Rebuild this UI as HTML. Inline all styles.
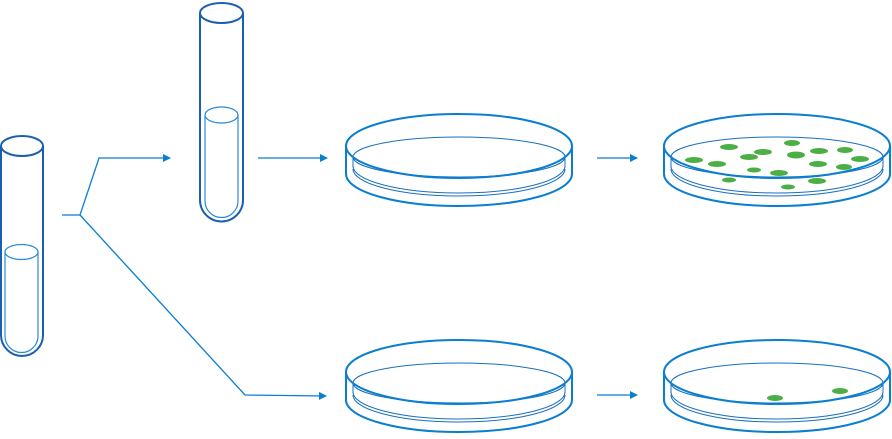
<!DOCTYPE html>
<html><head><style>html,body{margin:0;padding:0;background:#fff}svg{display:block}</style></head>
<body>
<svg width="892" height="439" viewBox="0 0 892 439" xmlns="http://www.w3.org/2000/svg">
<defs>
<g id="dish" fill="none">
  <path d="M353 383 L353 393 M565 383 L565 393" stroke="#1a6fc0" stroke-width="1"/>
  <path d="M353 392 A106 27 0 0 0 565 392" stroke="#1a6fc0" stroke-width="1"/>
  <path d="M353 395 A106 27 0 0 0 565 395" stroke="#1a6fc0" stroke-width="1"/>
  <ellipse cx="459" cy="383" rx="106" ry="20" stroke="#1a6fc0" stroke-width="1"/>
  <path d="M346 372 L346 400 A113 32 0 0 0 572 400 L572 372" stroke="#0a7ed0" stroke-width="2"/>
  <ellipse cx="459" cy="372" rx="113" ry="32" stroke="#0a7ed0" stroke-width="2"/>
</g>
<marker id="ah" markerWidth="8" markerHeight="8" refX="7" refY="4" orient="auto" markerUnits="userSpaceOnUse"><path d="M0 0 L8 4 L0 8 z" fill="#0a7ed0"/></marker>
</defs>
<!-- tube 1 -->
<g fill="none">
  <path d="M200 13 L200 200 A21.5 21.5 0 0 0 243 200 L243 13" stroke="#1a5fb0" stroke-width="2"/>
  <ellipse cx="221.5" cy="13" rx="21.5" ry="10" stroke="#1a5fb0" stroke-width="2"/>
  <path d="M205 115 L205 201 A16.5 16.5 0 0 0 238 201 L238 115" stroke="#2a8ad8" stroke-width="1.2"/>
  <ellipse cx="221.5" cy="115" rx="16.5" ry="8" stroke="#2a8ad8" stroke-width="1.2"/>
</g>
<!-- tube 2 -->
<g fill="none">
  <path d="M1 146 L1 335 A21 21 0 0 0 43 335 L43 146" stroke="#1a5fb0" stroke-width="2"/>
  <ellipse cx="22" cy="146" rx="21" ry="10" stroke="#1a5fb0" stroke-width="2"/>
  <path d="M5 252 L5 336 A16.5 16.5 0 0 0 38 336 L38 252" stroke="#2a8ad8" stroke-width="1.2"/>
  <ellipse cx="21.5" cy="252" rx="16.5" ry="7.5" stroke="#2a8ad8" stroke-width="1.2"/>
</g>
<!-- connectors -->
<g fill="none" stroke="#0a7ed0" stroke-width="1.3">
  <path d="M62 215 L80 215 L99 158 L170 158" marker-end="url(#ah)"/>
  <path d="M80 215 L245 395 L326 396" marker-end="url(#ah)"/>
  <path d="M258 158 L327 158" marker-end="url(#ah)"/>
  <path d="M597 158 L637 158" marker-end="url(#ah)"/>
  <path d="M597 395 L637 395" marker-end="url(#ah)"/>
</g>
<use href="#dish" transform="translate(0,-226)"/>
<use href="#dish"/>
<use href="#dish" transform="translate(318,-226)"/>
<use href="#dish" transform="translate(318,0)"/>
<!-- colonies -->
<g fill="#4caf45">
  <ellipse cx="729" cy="147" rx="9" ry="3"/>
  <ellipse cx="792" cy="143" rx="8" ry="3"/>
  <ellipse cx="763" cy="152" rx="9" ry="3"/>
  <ellipse cx="796" cy="155" rx="9" ry="3.5"/>
  <ellipse cx="819" cy="151" rx="9" ry="3"/>
  <ellipse cx="845" cy="150" rx="8" ry="3"/>
  <ellipse cx="694" cy="160" rx="9" ry="3"/>
  <ellipse cx="717" cy="164" rx="9" ry="3"/>
  <ellipse cx="749" cy="157" rx="9" ry="3"/>
  <ellipse cx="860" cy="159" rx="9" ry="3"/>
  <ellipse cx="818" cy="164" rx="9" ry="3"/>
  <ellipse cx="844" cy="167" rx="8" ry="3"/>
  <ellipse cx="754" cy="170" rx="7" ry="2.5"/>
  <ellipse cx="779" cy="173" rx="9" ry="3"/>
  <ellipse cx="729" cy="180" rx="7" ry="2.5"/>
  <ellipse cx="817" cy="181" rx="9" ry="3"/>
  <ellipse cx="788" cy="187" rx="7" ry="2.5"/>
  <ellipse cx="775" cy="398" rx="8" ry="3"/>
  <ellipse cx="840" cy="391" rx="8" ry="3"/>
</g>
</svg>
</body></html>
